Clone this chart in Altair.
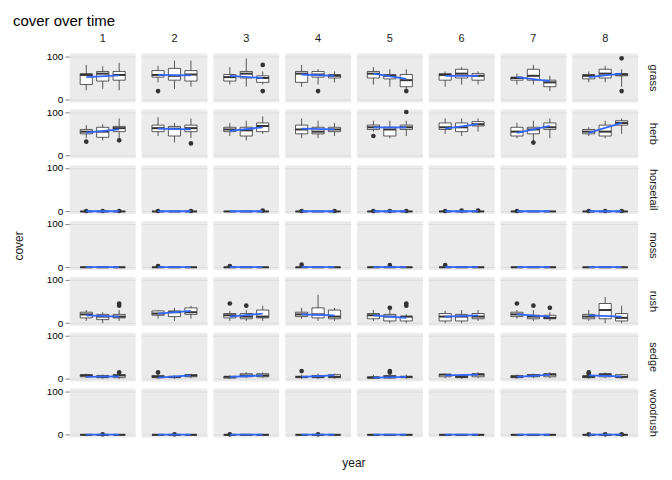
import altair as alt
import pandas as pd

sites = [1, 2, 3, 4, 5, 6, 7, 8]
groups = ["grass", "herb", "horsetail", "moss", "rush", "sedge", "woodrush"]
years = [1, 2, 3]

# per site: three boxes (lo, q1, med, q3, hi)
grass_stats = [
    [[22, 35, 57, 60, 80], [25, 43, 60, 65, 77], [22, 45, 57, 65, 85]],
    [[40, 52, 57, 67, 78], [25, 45, 55, 72, 90], [30, 43, 58, 67, 90]],
    [[35, 43, 52, 58, 75], [30, 50, 60, 65, 95], [35, 40, 50, 55, 65]],
    [[30, 40, 60, 65, 80], [35, 52, 58, 65, 70], [40, 50, 55, 58, 65]],
    [[35, 50, 60, 65, 75], [30, 48, 55, 58, 70], [15, 30, 45, 58, 70]],
    [[30, 45, 57, 60, 65], [35, 50, 60, 70, 75], [35, 45, 55, 60, 65]],
    [[35, 45, 50, 52, 60], [35, 45, 55, 70, 80], [20, 30, 40, 45, 55]],
    [[40, 48, 55, 58, 65], [40, 50, 60, 70, 78], [30, 55, 58, 60, 70]],
]
herb_stats = [
    [[40, 50, 55, 60, 70], [35, 42, 55, 65, 72], [40, 55, 63, 67, 85]],
    [[45, 55, 63, 70, 88], [30, 45, 62, 67, 75], [40, 55, 63, 70, 85]],
    [[45, 55, 60, 65, 75], [35, 45, 58, 65, 80], [50, 55, 68, 75, 90]],
    [[40, 50, 60, 70, 85], [40, 50, 55, 65, 80], [45, 55, 60, 65, 75]],
    [[55, 60, 65, 70, 80], [40, 45, 60, 65, 80], [45, 60, 65, 70, 80]],
    [[50, 60, 65, 75, 85], [45, 55, 65, 75, 85], [55, 68, 72, 78, 85]],
    [[40, 45, 55, 65, 75], [30, 50, 60, 65, 80], [40, 60, 65, 75, 85]],
    [[45, 50, 55, 60, 65], [40, 45, 55, 70, 80], [50, 70, 75, 80, 85]],
]
rush_stats = [
    [[5, 12, 20, 25, 30], [0, 8, 15, 20, 25], [5, 12, 15, 20, 30]],
    [[10, 18, 22, 28, 30], [5, 15, 25, 28, 35], [10, 20, 25, 35, 40]],
    [[5, 12, 18, 22, 28], [5, 10, 15, 22, 30], [5, 12, 15, 30, 40]],
    [[10, 15, 20, 25, 35], [5, 12, 20, 35, 65], [5, 10, 15, 30, 35]],
    [[5, 10, 18, 22, 30], [0, 5, 15, 20, 30], [0, 5, 15, 15, 20]],
    [[0, 5, 15, 22, 28], [0, 5, 15, 20, 30], [5, 10, 15, 22, 30]],
    [[10, 15, 20, 25, 30], [5, 10, 15, 18, 30], [5, 10, 12, 18, 25]],
    [[5, 10, 15, 20, 30], [0, 10, 30, 45, 60], [0, 5, 12, 22, 40]],
]
sedge_stats = [
    [[2, 5, 8, 10, 12], [0, 3, 5, 8, 10], [0, 3, 8, 10, 12]],
    [[0, 3, 5, 8, 10], [0, 3, 5, 5, 8], [2, 5, 8, 10, 12]],
    [[0, 2, 5, 5, 8], [2, 5, 8, 12, 15], [2, 5, 8, 12, 15]],
    [[0, 3, 5, 5, 10], [0, 3, 5, 8, 12], [0, 3, 5, 10, 12]],
    [[0, 2, 3, 5, 10], [0, 2, 5, 8, 12], [0, 3, 5, 5, 10]],
    [[2, 5, 10, 10, 12], [0, 3, 5, 8, 10], [2, 5, 10, 12, 15]],
    [[0, 3, 5, 8, 10], [2, 5, 8, 10, 12], [2, 5, 10, 12, 15]],
    [[0, 3, 5, 8, 12], [2, 5, 10, 12, 15], [0, 3, 5, 10, 12]],
]
zero_stats = [[[0, 0, 0, 0, 0]] * 3] * 8

# fitted line (value at year 1, value at year 3) per site
grass_fit = [(52, 56), (57, 56), (55, 50), (58, 55), (60, 48), (55, 55), (52, 43), (52, 60)]
herb_fit = [(53, 60), (62, 60), (57, 65), (62, 60), (65, 65), (62, 72), (52, 68), (52, 75)]
rush_fit = [(18, 15), (22, 28), (15, 22), (20, 18), (18, 12), (15, 18), (20, 15), (18, 15)]
sedge_fit = [(5, 6), (3, 8), (5, 8), (5, 8), (3, 5), (8, 10), (5, 10), (8, 6)]
zero_fit = [(0.5, 0.5)] * 8

# outliers: (group, site, year, cover)
outliers = [
    ("grass", 2, 1, 20), ("grass", 3, 3, 80), ("grass", 3, 3, 20), ("grass", 4, 2, 20),
    ("grass", 5, 3, 20), ("grass", 8, 3, 95), ("grass", 8, 3, 20),
    ("herb", 1, 1, 32), ("herb", 1, 3, 35), ("herb", 2, 3, 28), ("herb", 5, 1, 45),
    ("herb", 5, 3, 100), ("herb", 7, 2, 30),
    ("horsetail", 1, 1, 1), ("horsetail", 1, 2, 1), ("horsetail", 1, 3, 1),
    ("horsetail", 2, 1, 1), ("horsetail", 2, 3, 1), ("horsetail", 3, 3, 2),
    ("horsetail", 4, 1, 1), ("horsetail", 4, 3, 1), ("horsetail", 5, 1, 1),
    ("horsetail", 5, 2, 1), ("horsetail", 5, 3, 1), ("horsetail", 6, 1, 1),
    ("horsetail", 6, 2, 2), ("horsetail", 6, 3, 2), ("horsetail", 7, 1, 1),
    ("horsetail", 8, 1, 1), ("horsetail", 8, 2, 1), ("horsetail", 8, 3, 1),
    ("moss", 2, 1, 3), ("moss", 3, 1, 3), ("moss", 4, 1, 6), ("moss", 5, 2, 5), ("moss", 6, 1, 5),
    ("rush", 1, 3, 45), ("rush", 1, 3, 40), ("rush", 3, 1, 45), ("rush", 3, 2, 40),
    ("rush", 5, 2, 35), ("rush", 5, 3, 40), ("rush", 5, 3, 45),
    ("rush", 7, 1, 45), ("rush", 7, 2, 40), ("rush", 7, 3, 35),
    ("sedge", 1, 3, 15), ("sedge", 2, 1, 15), ("sedge", 4, 1, 18),
    ("sedge", 5, 2, 15), ("sedge", 5, 2, 18), ("sedge", 8, 1, 15), ("sedge", 8, 1, 12),
    ("woodrush", 1, 2, 1), ("woodrush", 2, 2, 1), ("woodrush", 3, 1, 1),
    ("woodrush", 4, 2, 1), ("woodrush", 8, 1, 1), ("woodrush", 8, 2, 1), ("woodrush", 8, 3, 1),
]

stats_by_group = {"grass": grass_stats, "herb": herb_stats, "horsetail": zero_stats,
                  "moss": zero_stats, "rush": rush_stats, "sedge": sedge_stats,
                  "woodrush": zero_stats}
fit_by_group = {"grass": grass_fit, "herb": herb_fit, "horsetail": zero_fit,
                "moss": zero_fit, "rush": rush_fit, "sedge": sedge_fit,
                "woodrush": zero_fit}

rows = []
for g in groups:
    for si, s in enumerate(sites):
        for yi, y in enumerate(years):
            lo, q1, med, q3, hi = stats_by_group[g][si][yi]
            rows.append(dict(kind="box", group=g, site=s, year=y, lo=lo, q1=q1,
                             med=med, q3=q3, hi=hi))
        a, b = fit_by_group[g][si]
        rows.append(dict(kind="fit", group=g, site=s, year=1, cover=a))
        rows.append(dict(kind="fit", group=g, site=s, year=3, cover=b))
for g, s, y, v in outliers:
    rows.append(dict(kind="out", group=g, site=s, year=y, cover=v))
df = pd.DataFrame(rows)

xs = alt.Scale(domain=[0.4, 3.6])
ys = alt.Scale(domain=[-6, 106], nice=False)
xax = alt.Axis(labels=False, ticks=False, grid=False, title=None, domain=False)
yax = alt.Axis(values=[0, 12.5, 25, 37.5, 50, 62.5, 75, 87.5, 100], title=None, domain=False,
               labelExpr="datum.value % 25 == 0 ? datum.label : ''", labelOverlap=False,
               labelFontSize=10, labelPadding=2)

base = alt.Chart().transform_calculate(x1="datum.year - 0.37", x2="datum.year + 0.37")
boxes = base.transform_filter("datum.kind == 'box'")

whisk = boxes.mark_rule(color="#333333", strokeWidth=0.8).encode(
    x=alt.X("year:Q", scale=xs, axis=xax), y=alt.Y("lo:Q", scale=ys, axis=yax), y2="hi:Q")
rect = boxes.mark_rect(fill="white", stroke="#333333", strokeWidth=0.8).encode(
    x="x1:Q", x2="x2:Q", y="q1:Q", y2="q3:Q")
med = boxes.mark_rule(color="#333333", strokeWidth=2).encode(
    x="x1:Q", x2="x2:Q", y="med:Q")
pts = base.transform_filter("datum.kind == 'out'").mark_circle(
    color="#333333", opacity=1, size=22).encode(x="year:Q", y="cover:Q")
fit = base.transform_filter("datum.kind == 'fit'").mark_line(
    color="#3366FF", strokeWidth=1.8).encode(x="year:Q", y="cover:Q")

chart = alt.layer(whisk, rect, med, pts, fit, data=df).properties(
    width=66, height=49, view=alt.ViewBackground(fill="#EBEBEB", stroke=None)
).facet(
    column=alt.Column("site:O", title="year",
                      header=alt.Header(labelFontSize=11, labelColor="#1a1a1a",
                                        titleOrient="bottom", titleFontWeight="normal",
                                        titleFontSize=12, titleColor="#1a1a1a")),
    row=alt.Row("group:N", sort=groups, title="cover",
                header=alt.Header(labelOrient="right", labelAngle=90, labelFontSize=11,
                                  labelColor="#1a1a1a", titleOrient="left",
                                  titleFontWeight="normal", titleFontSize=12,
                                  titleColor="#1a1a1a")),
    spacing=6,
).properties(
    title=alt.TitleParams("cover over time", anchor="start", fontSize=15, fontWeight="normal")
).configure_view(fill="#EBEBEB", stroke=None).configure_axis(
    gridColor="white", tickColor="#333333", labelColor="#4d4d4d", tickSize=3
).configure(font="Liberation Sans")

chart.save("out.html", embed_options={"renderer": "svg", "actions": False})
